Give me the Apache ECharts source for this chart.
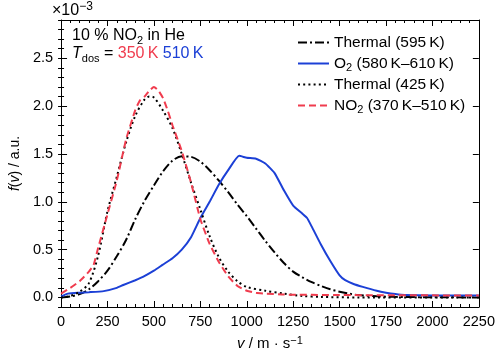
<!DOCTYPE html>
<html>
<head>
<meta charset="utf-8">
<script src="https://cdn.jsdelivr.net/npm/echarts@6/dist/echarts.min.js"></script>
<style>
  html, body { margin: 0; padding: 0; background: #fff; }
  #chart { width: 498px; height: 358px; }
</style>
</head>
<body>
<div id="chart"></div>
<script>
// legend names (thin spaces before K like the original)
var seriesNames = ['Thermal (595\u2009K)', 'O2 (580\u2009K–610\u2009K)', 'Thermal (425\u2009K)', 'NO2 (370\u2009K–510\u2009K)'];

// thermal 595 K, dash-dot
var thermal595V = [0, 50, 100, 150, 200, 250, 300, 350, 400, 450, 500, 550, 600, 650, 700, 750, 800, 850, 900, 950, 1000, 1050, 1100, 1150, 1200, 1250, 1300, 1350, 1400, 1450, 1500, 1550, 1600, 1700, 1800, 2000, 2250];
var thermal595F = [0, 0.01, 0.035, 0.085, 0.17, 0.28, 0.43, 0.6, 0.82, 1.01, 1.17, 1.32, 1.43, 1.475, 1.47, 1.42, 1.33, 1.22, 1.1, 0.97, 0.85, 0.72, 0.59, 0.47, 0.36, 0.27, 0.21, 0.16, 0.12, 0.085, 0.06, 0.04, 0.025, 0.012, 0.006, 0.002, 0];

// O2, blue solid
var o2V = [0, 37, 100, 150, 230, 300, 335, 400, 441, 500, 546, 600, 650, 700, 750, 800, 850, 900, 959, 1000, 1050, 1100, 1150, 1200, 1250, 1300, 1325, 1350, 1400, 1450, 1500, 1530, 1575, 1625, 1700, 1750, 1800, 1850, 2000, 2250];
var o2F = [0.01, 0.04, 0.05, 0.055, 0.066, 0.1, 0.13, 0.18, 0.215, 0.28, 0.34, 0.41, 0.5, 0.63, 0.83, 1.0, 1.18, 1.33, 1.48, 1.46, 1.45, 1.4, 1.3, 1.12, 0.96, 0.875, 0.83, 0.74, 0.55, 0.38, 0.23, 0.18, 0.14, 0.11, 0.07, 0.05, 0.035, 0.025, 0.02, 0.02];

// thermal 425 K, dotted
var thermal425V = [0, 50, 100, 150, 200, 250, 300, 350, 400, 450, 475, 500, 550, 600, 650, 700, 750, 800, 850, 900, 950, 1000, 1100, 1200, 1300, 1400, 1600, 2250];
var thermal425F = [0, 0.015, 0.06, 0.15, 0.44, 0.9, 1.26, 1.62, 1.9, 2.07, 2.1, 2.09, 1.95, 1.77, 1.5, 1.2, 0.92, 0.64, 0.42, 0.27, 0.17, 0.11, 0.07, 0.04, 0.015, 0.005, 0, 0];

// NO2, red dashed
var no2V = [0, 50, 100, 150, 175, 200, 250, 300, 350, 400, 425, 450, 475, 500, 525, 550, 575, 600, 650, 700, 750, 800, 850, 900, 950, 1000, 1050, 1100, 1200, 1500, 2250];
var no2F = [0.04, 0.1, 0.17, 0.27, 0.34, 0.52, 0.87, 1.22, 1.65, 1.96, 2.06, 2.1, 2.16, 2.2, 2.16, 2.08, 1.95, 1.8, 1.53, 1.2, 0.82, 0.56, 0.37, 0.22, 0.12, 0.07, 0.05, 0.04, 0.03, 0.025, 0.02];

var xMin = 0, xMax = 2250, xStep = 250;
var yMin = -0.1, yMax = 2.9;
var yMajorTicks = [0, 0.5, 1.0, 1.5, 2.0, 2.5];

var red = '#f03c4e';
var blue = '#1c40d6';
var font = 'Liberation Sans, Arial, Helvetica, sans-serif';

function zip(v, f) {
  return v.map(function (x, i) { return [x, f[i]]; });
}

var chart = echarts.init(document.getElementById('chart'), null, { renderer: 'canvas' });

var tickStyle = { color: '#000', width: 1 };

function xAx(pos) {
  return {
    type: 'value', position: pos, min: xMin, max: xMax, interval: xStep,
    axisLine: { show: true, onZero: false, lineStyle: tickStyle },
    axisTick: { show: true, inside: true, length: 6, lineStyle: tickStyle },
    minorTick: { show: true, splitNumber: 5, length: 3, lineStyle: tickStyle },
    splitLine: { show: false },
    axisLabel: {
      show: pos === 'bottom', color: '#000', fontSize: 14.5, margin: 7, fontFamily: font,
      formatter: function (v) { return String(v); }
    }
  };
}

function yMajor(pos) {
  return {
    type: 'value', position: pos, min: yMin, max: yMax,
    axisLine: { show: true, onZero: false, lineStyle: tickStyle },
    axisTick: { show: true, inside: true, length: 6, lineStyle: tickStyle, customValues: yMajorTicks },
    splitLine: { show: false },
    axisLabel: {
      show: pos === 'left', color: '#000', fontSize: 14.5, margin: 8, fontFamily: font,
      customValues: yMajorTicks,
      formatter: function (v) { return v.toFixed(1); }
    }
  };
}

function yMinor(pos) {
  return {
    type: 'value', position: pos, min: yMin, max: yMax, interval: 0.1,
    axisLine: { show: false },
    axisTick: { show: true, inside: true, length: 3, lineStyle: tickStyle },
    splitLine: { show: false },
    axisLabel: { show: false }
  };
}

var xBottom = xAx('bottom');
xBottom.name = '{it|v} / m · s{sup|−1}';
xBottom.nameLocation = 'middle';
xBottom.nameGap = 28;
xBottom.nameTextStyle = {
  color: '#000', fontSize: 15, fontFamily: font, lineHeight: 18,
  rich: {
    it: { fontStyle: 'italic', fontSize: 15, fontFamily: font },
    sup: { fontSize: 11, verticalAlign: 'top', lineHeight: 11, fontFamily: font }
  }
};

var yLeft = yMajor('left');
yLeft.name = '{it|f}({it|v}) / a.u.';
yLeft.nameLocation = 'middle';
yLeft.nameGap = 35;
yLeft.nameTextStyle = {
  color: '#000', fontSize: 14, fontFamily: font,
  rich: { it: { fontStyle: 'italic', fontSize: 14, fontFamily: font } }
};

var lineDefs = [
  { name: seriesNames[0], v: thermal595V, f: thermal595F, color: '#000', type: [9, 3, 2, 3], width: 2, smooth: 0.3 },
  { name: seriesNames[1], v: o2V, f: o2F, color: blue, type: 'solid', width: 2, smooth: 0.15 },
  { name: seriesNames[2], v: thermal425V, f: thermal425F, color: '#000', type: [2, 3.2], width: 2, smooth: 0.3 },
  { name: seriesNames[3], v: no2V, f: no2F, color: red, type: [7, 4], width: 2, smooth: 0.15 }
];

var series = lineDefs.map(function (d) {
  return {
    name: d.name,
    type: 'line',
    xAxisIndex: 0,
    yAxisIndex: 0,
    symbol: 'none',
    showSymbol: false,
    smooth: d.smooth,
    animation: false,
    itemStyle: { color: d.color },
    lineStyle: { color: d.color, width: d.width, type: d.type },
    data: zip(d.v, d.f)
  };
});

var subRich = { fontSize: 11, verticalAlign: 'bottom', lineHeight: 11, fontFamily: font, fill: '#000' };

chart.setOption({
  animation: false,
  textStyle: { fontFamily: font },
  grid: { left: 53, right: 18, top: 20, bottom: 50, containLabel: false },
  xAxis: [xBottom, xAx('top')],
  yAxis: [yLeft, yMinor('left'), yMajor('right'), yMinor('right')],
  legend: {
    orient: 'vertical',
    left: 292,
    top: 28,
    itemWidth: 31,
    itemHeight: 14,
    itemGap: 2,
    selectedMode: false,
    data: seriesNames,
    itemStyle: { opacity: 0 },
    formatter: function (name) {
      return name.replace('NO2', 'NO{sub|2}').replace(/^O2/, 'O{sub|2}');
    },
    textStyle: {
      color: '#000', fontSize: 15.5, fontFamily: font, lineHeight: 19,
      rich: { sub: { fontSize: 11, verticalAlign: 'bottom', lineHeight: 11, fontFamily: font, color: '#000' } }
    }
  },
  graphic: [
    {
      type: 'text', left: 52, top: 1,
      style: {
        text: '×10{sup|−3}', fill: '#000', font: '16px ' + font, lineHeight: 19,
        rich: { sup: { fontSize: 12, verticalAlign: 'top', lineHeight: 12, fontFamily: font, fill: '#000' } }
      }
    },
    {
      type: 'text', left: 72, top: 26,
      style: {
        text: '10 % NO{sub|2} in He', fill: '#000', font: '16px ' + font, lineHeight: 20,
        rich: { sub: subRich }
      }
    },
    {
      type: 'text', left: 72, top: 44,
      style: {
        text: '{it|T}{sub|dos} = {r|350\u2009K} {b|510\u2009K}', fill: '#000', font: '16px ' + font, lineHeight: 20,
        rich: {
          it: { fontStyle: 'italic', fontSize: 16, fontFamily: font, fill: '#000' },
          sub: subRich,
          r: { fill: red, fontSize: 16, fontFamily: font },
          b: { fill: blue, fontSize: 16, fontFamily: font }
        }
      }
    }
  ],
  series: series
});
</script>
</body>
</html>
